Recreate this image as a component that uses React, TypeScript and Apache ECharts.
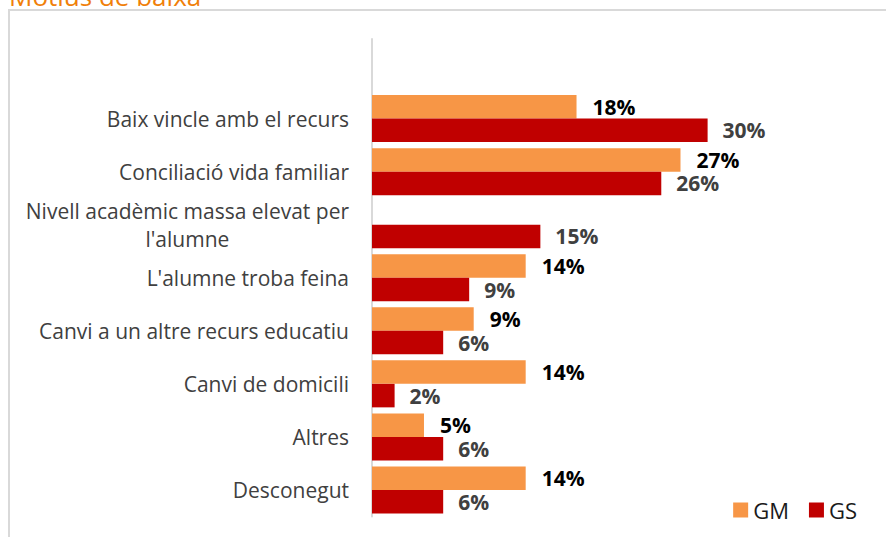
import React, { useEffect, useRef } from "react";
import * as echarts from "echarts";

const title = "Motius de baixa";
const categories = [
  "",
  "Baix vincle amb el recurs",
  "Conciliació vida familiar",
  "Nivell acadèmic massa elevat per l'alumne",
  "L'alumne troba feina",
  "Canvi a un altre recurs educatiu",
  "Canvi de domicili",
  "Altres",
  "Desconegut",
];
const seriesNames = ["GM", "GS"];
const gmValues: (number | null)[] = [null, 18.1, 27.3, null, 13.6, 9.0, 13.6, 4.6, 13.6];
const gsValues: (number | null)[] = [null, 29.7, 25.6, 14.9, 8.6, 6.3, 2.0, 6.3, 6.3];

const FONT = "'Open Sans', sans-serif";

export default function App() {
  const ref = useRef<HTMLDivElement>(null);
  useEffect(() => {
    if (!ref.current) return;
    const chart = echarts.init(ref.current, undefined, { renderer: "svg" });
    const labelFmt = (p: any) => (p.value == null ? "" : Math.round(p.value) + "%");
    chart.setOption({
      animation: false,
      textStyle: { fontFamily: FONT },
      graphic: [
        {
          type: "rect",
          shape: { x: 9, y: 10, width: 900, height: 600 },
          style: { fill: "none", stroke: "#D9D9D9", lineWidth: 2 },
          silent: true,
        },
        {
          type: "text",
          left: 9,
          top: -17,
          style: { text: title, fontSize: 26, fill: "#F07F09", fontFamily: FONT },
        },
      ],
      legend: {
        data: seriesNames,
        right: 24,
        bottom: 11,
        icon: "rect",
        itemWidth: 15,
        itemHeight: 15,
        itemGap: 20,
        textStyle: { fontSize: 22, color: "#1a1a1a", fontFamily: FONT },
      },
      grid: { left: 372, right: 5.5, top: 39, bottom: 20.5, containLabel: false },
      xAxis: {
        type: "value",
        min: 0,
        max: 45,
        show: false,
        splitLine: { show: false },
      },
      yAxis: {
        type: "category",
        inverse: true,
        data: categories,
        axisLine: { show: true, lineStyle: { color: "#D9D9D9", width: 2 } },
        axisTick: { show: false },
        axisLabel: {
          margin: 23,
          fontSize: 21,
          color: "#404040",
          fontFamily: FONT,
          align: "right",
          lineHeight: 28,
          formatter: (v: string) => {
            if (v.length > 32) {
              const idx = v.lastIndexOf(" ", 32);
              return "{c|" + v.slice(0, idx) + "}\n{c|" + v.slice(idx + 1) + "}";
            }
            return v;
          },
          rich: {
            c: { align: "center", fontSize: 21, color: "#404040", fontFamily: FONT, lineHeight: 28 },
          },
        },
      },
      series: [
        {
          name: seriesNames[0],
          type: "bar",
          data: gmValues,
          barWidth: 23.5,
          barGap: "0%",
          itemStyle: { color: "#F79646" },
          label: {
            show: true,
            position: "right",
            distance: 16,
            formatter: labelFmt,
            fontSize: 21,
            fontWeight: "bold",
            color: "#000000",
            fontFamily: FONT,
          },
        },
        {
          name: seriesNames[1],
          type: "bar",
          data: gsValues,
          barWidth: 23.5,
          barGap: "0%",
          itemStyle: { color: "#C00000" },
          label: {
            show: true,
            position: "right",
            distance: 15,
            formatter: labelFmt,
            fontSize: 21,
            fontWeight: "bold",
            color: "#404040",
            fontFamily: FONT,
          },
        },
      ],
    });
    return () => chart.dispose();
  }, []);
  return (
    <div
      ref={ref}
      style={{ position: "absolute", left: 0, top: 0, width: 886, height: 537 }}
    />
  );
}
